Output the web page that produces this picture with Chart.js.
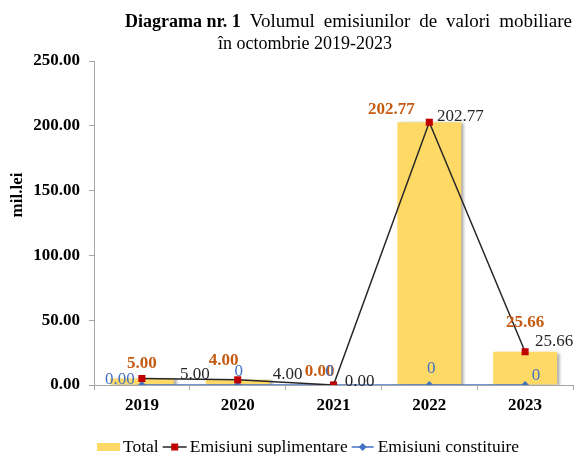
<!DOCTYPE html>
<html><head><meta charset="utf-8">
<script src="https://cdn.jsdelivr.net/npm/chart.js@4.4.1/dist/chart.umd.min.js"></script>
<style>html,body{margin:0;padding:0;background:#fff}</style>
</head><body>
<canvas id="c" width="578" height="454" style="width:578px;height:454px;display:block"></canvas>
<script>
// ---- data ----
const categories = ['2019', '2020', '2021', '2022', '2023'];
const totalValues = [5.00, 4.00, 0.00, 202.77, 25.66];
const suplimentareValues = [5.00, 4.00, 0.00, 202.77, 25.66];
const constituireValues = [0, 0, 0, 0, 0];
const yTickValues = [0, 50, 100, 150, 200, 250];
const seriesNames = ['Total', 'Emisiuni suplimentare', 'Emisiuni constituire'];
const titleBold = 'Diagrama nr. 1';
const titleRest = 'Volumul emisiunilor de valori mobiliare';
const titleLine2 = 'în octombrie 2019-2023';
const yAxisTitle = 'mil.lei';

// ---- styles ----
const SERIF = '"Liberation Serif", "Times New Roman", serif';
const BAR = '#FFD966', ORANGE = '#C55A11', DARK = '#262626', RED = '#C00000', BLUE = '#4472C4', AXIS = '#A6A6A6';

const labelPlugin = {
  id: 'labels',
  beforeDatasetDraw(chart, args) {
    if (args.index === 0) {
      const ctx = chart.ctx;
      ctx.save();
      ctx.shadowColor = 'rgba(0,0,0,0.35)';
      ctx.shadowOffsetX = 3;
      ctx.shadowOffsetY = 1;
      ctx.shadowBlur = 3;
    }
  },
  afterDatasetDraw(chart, args) {
    if (args.index === 0) chart.ctx.restore();
  },
  afterDatasetsDraw(chart, args, opts) {
    const ctx = chart.ctx;
    ctx.save();
    ctx.textAlign = 'center';
    ctx.textBaseline = 'middle';
    opts.sets.forEach(s => {
      const meta = chart.getDatasetMeta(s.dataset);
      const data = chart.data.datasets[s.dataset].data;
      ctx.font = s.font;
      ctx.fillStyle = s.color;
      meta.data.forEach((el, i) => {
        const txt = Number(data[i]).toFixed(s.decimals[i]);
        ctx.fillText(txt, el.x + s.dx[i], el.y + s.dy[i]);
      });
    });
    ctx.restore();
  },
  afterDraw(chart) {
    const ctx = chart.ctx;
    ctx.save();
    // title line 1: bold part + regular words spread to the right edge
    ctx.fillStyle = '#000';
    ctx.textBaseline = 'alphabetic';
    ctx.textAlign = 'left';
    ctx.font = 'bold 18px ' + SERIF;
    ctx.fillText(titleBold, 125, 27);
    const startRest = 125 + ctx.measureText(titleBold).width;
    ctx.font = '19px ' + SERIF;
    const words = titleRest.split(' ');
    const widths = words.map(w => ctx.measureText(w).width);
    const sumW = widths.reduce((a, b) => a + b, 0);
    const endX = 572;
    const gap = (endX - startRest - sumW) / words.length;
    let tx = startRest;
    words.forEach((w, i) => { tx += gap; ctx.fillText(w, tx, 27); tx += widths[i]; });
    ctx.font = '18px ' + SERIF;
    ctx.fillText(titleLine2, 218, 49);
    // y axis title
    ctx.save();
    ctx.translate(18, 195);
    ctx.rotate(-Math.PI / 2);
    ctx.textAlign = 'center';
    ctx.textBaseline = 'middle';
    ctx.font = 'bold 17px ' + SERIF;
    ctx.fillText(yAxisTitle, 0, 0);
    ctx.restore();
    // legend
    const ly = 447;
    let x = 97;
    ctx.font = '17.5px ' + SERIF;
    ctx.textBaseline = 'middle';
    ctx.fillStyle = BAR;
    ctx.fillRect(x, ly - 4, 23, 8);
    x += 26;
    ctx.fillStyle = '#000';
    ctx.fillText(seriesNames[0], x, ly);
    x += ctx.measureText(seriesNames[0]).width + 4;
    // suplimentare
    ctx.strokeStyle = DARK; ctx.lineWidth = 1.5;
    ctx.beginPath(); ctx.moveTo(x, ly); ctx.lineTo(x + 24, ly); ctx.stroke();
    ctx.fillStyle = RED; ctx.fillRect(x + 12 - 3.5, ly - 3.5, 7, 7);
    x += 27;
    ctx.fillStyle = '#000';
    ctx.fillText(seriesNames[1], x, ly);
    x += ctx.measureText(seriesNames[1]).width + 4;
    // constituire
    ctx.strokeStyle = BLUE;
    ctx.beginPath(); ctx.moveTo(x, ly); ctx.lineTo(x + 22, ly); ctx.stroke();
    ctx.fillStyle = BLUE;
    ctx.beginPath(); ctx.moveTo(x + 11, ly - 4); ctx.lineTo(x + 15, ly); ctx.lineTo(x + 11, ly + 4); ctx.lineTo(x + 7, ly); ctx.closePath(); ctx.fill();
    x += 26;
    ctx.fillStyle = '#000';
    ctx.fillText(seriesNames[2], x, ly);
    ctx.restore();
  }
};

new Chart(document.getElementById('c'), {
  data: {
    labels: categories,
    datasets: [
      { type: 'bar', label: seriesNames[0], data: totalValues, backgroundColor: BAR, borderWidth: 0,
        barPercentage: 0.667, categoryPercentage: 1, order: 3 },
      { type: 'line', label: seriesNames[1], data: suplimentareValues, borderColor: DARK, borderWidth: 1.5,
        pointStyle: 'rect', pointRadius: 5, pointBackgroundColor: RED, pointBorderColor: RED, pointBorderWidth: 0,
        tension: 0, order: 1 },
      { type: 'line', label: seriesNames[2], data: constituireValues, borderColor: BLUE, borderWidth: 1.5,
        pointStyle: 'rectRot', pointRadius: 4, pointBackgroundColor: BLUE, pointBorderColor: BLUE, pointBorderWidth: 0,
        tension: 0, order: 2 }
    ]
  },
  options: {
    responsive: false,
    animation: false,
    events: [],
    layout: { padding: { top: 61, left: 0, right: 3, bottom: 29 } },
    plugins: {
      legend: { display: false },
      title: { display: false },
      tooltip: { enabled: false },
      labels: {
        sets: [
          { dataset: 0, font: 'bold 17px ' + SERIF, color: ORANGE, decimals: [2, 2, 2, 2, 2],
            dx: [0, -14, -14, -38, 0], dy: [-15, -19, -13, -13, -29] },
          { dataset: 1, font: '17px ' + SERIF, color: DARK, decimals: [2, 2, 2, 2, 2],
            dx: [53, 50, 26, 31, 29], dy: [-4, -5, -3, -6, -10] },
          { dataset: 2, font: '17px ' + SERIF, color: BLUE, decimals: [2, 0, 0, 0, 0],
            dx: [-22, 1, -4, 2, 11], dy: [-5, -13, -13, -16, -9] }
        ]
      }
    },
    scales: {
      x: {
        offset: true,
        grid: { display: true, drawOnChartArea: false, drawTicks: true, tickLength: 5, color: AXIS, offset: true },
        border: { display: true, color: AXIS, width: 1 },
        ticks: { color: '#000', font: { family: SERIF, size: 17, weight: 'bold' }, padding: 5, maxRotation: 0 },
        afterFit: s => { s.height = 40; }
      },
      y: {
        min: 0, max: 250,
        afterBuildTicks: s => { s.ticks = yTickValues.map(v => ({ value: v })); },
        grid: { display: true, drawOnChartArea: false, drawTicks: true, tickLength: 5, color: AXIS },
        border: { display: true, color: AXIS, width: 1 },
        ticks: { color: '#000', font: { family: SERIF, size: 17, weight: 'bold' }, padding: 9,
          callback: v => Number(v).toFixed(2) },
        afterFit: s => { s.width = 94; }
      }
    }
  },
  plugins: [labelPlugin]
});
</script>
</body></html>
